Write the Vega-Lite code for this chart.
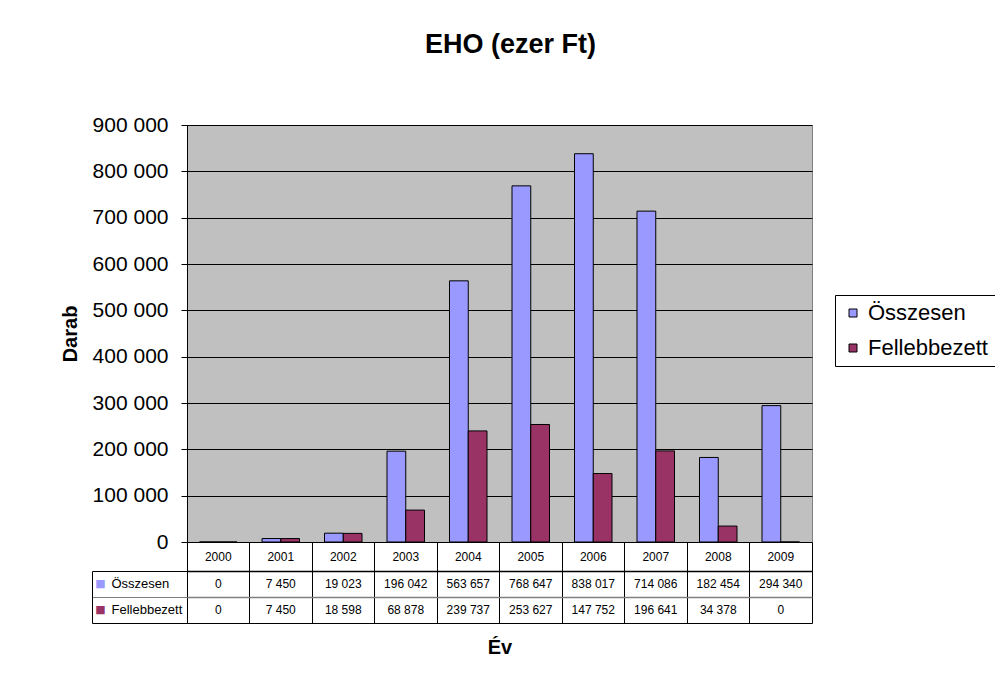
{
  "$schema": "https://vega.github.io/schema/vega-lite/v6.json",
  "background": "white",
  "padding": {"left": 59, "top": 30, "right": 0, "bottom": 0},
  "title": {"text": "EHO (ezer Ft)", "fontSize": 27, "fontWeight": "bold", "font": "Liberation Sans", "anchor": "middle", "offset": 55, "dx": -17, "color": "black"},
  "data": {"values": [
    {"year": "2000", "series": "Összesen", "value": 0},
    {"year": "2001", "series": "Összesen", "value": 7450},
    {"year": "2002", "series": "Összesen", "value": 19023},
    {"year": "2003", "series": "Összesen", "value": 196042},
    {"year": "2004", "series": "Összesen", "value": 563657},
    {"year": "2005", "series": "Összesen", "value": 768647},
    {"year": "2006", "series": "Összesen", "value": 838017},
    {"year": "2007", "series": "Összesen", "value": 714086},
    {"year": "2008", "series": "Összesen", "value": 182454},
    {"year": "2009", "series": "Összesen", "value": 294340},
    {"year": "2000", "series": "Fellebbezett", "value": 0},
    {"year": "2001", "series": "Fellebbezett", "value": 7450},
    {"year": "2002", "series": "Fellebbezett", "value": 18598},
    {"year": "2003", "series": "Fellebbezett", "value": 68878},
    {"year": "2004", "series": "Fellebbezett", "value": 239737},
    {"year": "2005", "series": "Fellebbezett", "value": 253627},
    {"year": "2006", "series": "Fellebbezett", "value": 147752},
    {"year": "2007", "series": "Fellebbezett", "value": 196641},
    {"year": "2008", "series": "Fellebbezett", "value": 34378},
    {"year": "2009", "series": "Fellebbezett", "value": 0}
  ]},
  "spacing": 0,
  "bounds": "flush",
  "resolve": {"scale": {"x": "independent", "y": "independent", "color": "shared"}},
  "vconcat": [
    {
      "width": 625, "height": 417,
      "view": {"fill": "#C0C0C0", "stroke": "#808080"},
      "mark": {"type": "bar", "stroke": "black", "strokeWidth": 1},
      "encoding": {
        "x": {"field": "year", "type": "nominal", "scale": {"paddingInner": 0.4, "paddingOuter": 0.2}, "axis": null},
        "xOffset": {"field": "series", "type": "nominal", "sort": ["Összesen", "Fellebbezett"], "scale": {"paddingInner": 0, "paddingOuter": 0}},
        "y": {"field": "value", "type": "quantitative", "scale": {"domain": [0, 900000], "nice": false},
          "axis": {"tickCount": 9, "format": ",d", "title": "Darab", "titleFontSize": 20, "titleFontWeight": "bold", "titlePadding": 12,
            "labelFontSize": 21, "labelPadding": 13, "tickSize": 6, "tickColor": "black", "domainColor": "black",
            "grid": true, "gridColor": "black", "gridWidth": 1, "labelColor": "black", "titleColor": "black"}},
        "color": {"field": "series", "type": "nominal", "sort": ["Összesen", "Fellebbezett"],
          "scale": {"domain": ["Összesen", "Fellebbezett"], "range": ["#9999FF", "#993366"]},
          "legend": {"title": null, "orient": "none", "legendX": 648, "legendY": 170, "strokeColor": "black", "fillColor": "white",
            "padding": 7, "symbolType": "square", "symbolSize": 64, "symbolStrokeColor": "black", "symbolStrokeWidth": 1,
            "labelFontSize": 22, "labelColor": "black", "rowPadding": 13, "labelOffset": 4}}
      }
    },
    {
      "width": 625, "height": 29,
      "view": {"fill": "white", "stroke": "black"},
      "transform": [{"filter": "datum.series == 'Összesen'"}],
      "mark": {"type": "text", "fontSize": 12, "color": "black"},
      "encoding": {
        "x": {"field": "year", "type": "nominal", "scale": {"type": "band", "paddingInner": 0, "paddingOuter": 0},
          "axis": {"bandPosition": 0, "grid": true, "gridColor": "black", "gridWidth": 1, "labels": false, "ticks": false, "domain": false, "title": null}},
        "text": {"field": "year"}
      }
    },
    {
      "width": 625, "height": 52,
      "view": {"fill": "white", "stroke": "black"},
      "resolve": {"axis": {"y": "independent"}},
      "layer": [
        {
          "mark": {"type": "text", "fontSize": 12, "color": "black"},
          "encoding": {
            "x": {"field": "year", "type": "nominal", "scale": {"type": "band", "paddingInner": 0, "paddingOuter": 0},
              "axis": {"bandPosition": 0, "grid": true, "gridColor": "black", "gridWidth": 1, "labels": false, "ticks": false, "domain": false,
                "title": "Év", "titleFontSize": 20, "titleFontWeight": "bold", "titlePadding": 14, "titleColor": "black"}},
            "y": {"field": "series", "type": "nominal", "scale": {"type": "band", "domain": ["Összesen", "Fellebbezett"], "paddingInner": 0, "paddingOuter": 0},
              "axis": {"orient": "left", "bandPosition": 0, "title": null, "labels": false, "domain": false, "ticks": true, "tickSize": 95,
                "tickColor": {"condition": {"test": "datum.value == 'Fellebbezett'", "value": "#808080"}, "value": "black"},
                "grid": true, "gridColor": {"condition": {"test": "datum.value == 'Fellebbezett'", "value": "#808080"}, "value": "black"}, "gridWidth": 1.5}},
            "text": {"field": "value", "type": "quantitative", "format": ",d"}
          }
        },
        {
          "mark": {"type": "text", "opacity": 0},
          "encoding": {
            "y": {"field": "series", "type": "nominal", "scale": {"type": "band"},
              "axis": {"orient": "left", "bandPosition": 1, "title": null, "labels": false, "domain": false, "ticks": true, "tickSize": 95,
                "tickColor": {"condition": {"test": "datum.value == 'Összesen'", "value": "#808080"}, "value": "black"}, "grid": false}},
            "text": {"field": "value", "type": "quantitative"}
          }
        },
        {
          "mark": {"type": "text", "opacity": 0},
          "encoding": {
            "y": {"field": "series", "type": "nominal", "scale": {"type": "band"},
              "axis": {"orient": "left", "offset": 95, "title": null, "domain": true, "domainColor": "black", "ticks": false, "tickSize": 0, "grid": false,
                "labelExpr": "'■'", "labelFont": "DejaVu Sans", "labelFontSize": 11,
                "labelColor": {"condition": {"test": "datum.value == 'Összesen'", "value": "#9999FF"}, "value": "#993366"},
                "labelAlign": "center", "labelPadding": -8, "labelBaseline": "middle"}},
            "text": {"field": "value", "type": "quantitative"}
          }
        },
        {
          "mark": {"type": "text", "opacity": 0},
          "encoding": {
            "y": {"field": "series", "type": "nominal", "scale": {"type": "band"},
              "axis": {"orient": "left", "offset": 95, "title": null, "domain": false, "ticks": false, "tickSize": 0, "grid": false,
                "labelFontSize": 13, "labelColor": "black", "labelAlign": "left", "labelPadding": -19, "labelBaseline": "middle"}},
            "text": {"field": "value", "type": "quantitative"}
          }
        }
      ]
    }
  ],
  "config": {
    "font": "Liberation Sans",
    "locale": {"number": {"decimal": ",", "thousands": " ", "grouping": [3], "currency": ["", ""]}},
    "axis": {"labelFont": "Liberation Sans", "titleFont": "Liberation Sans"},
    "legend": {"labelFont": "Liberation Sans"}
  }
}
